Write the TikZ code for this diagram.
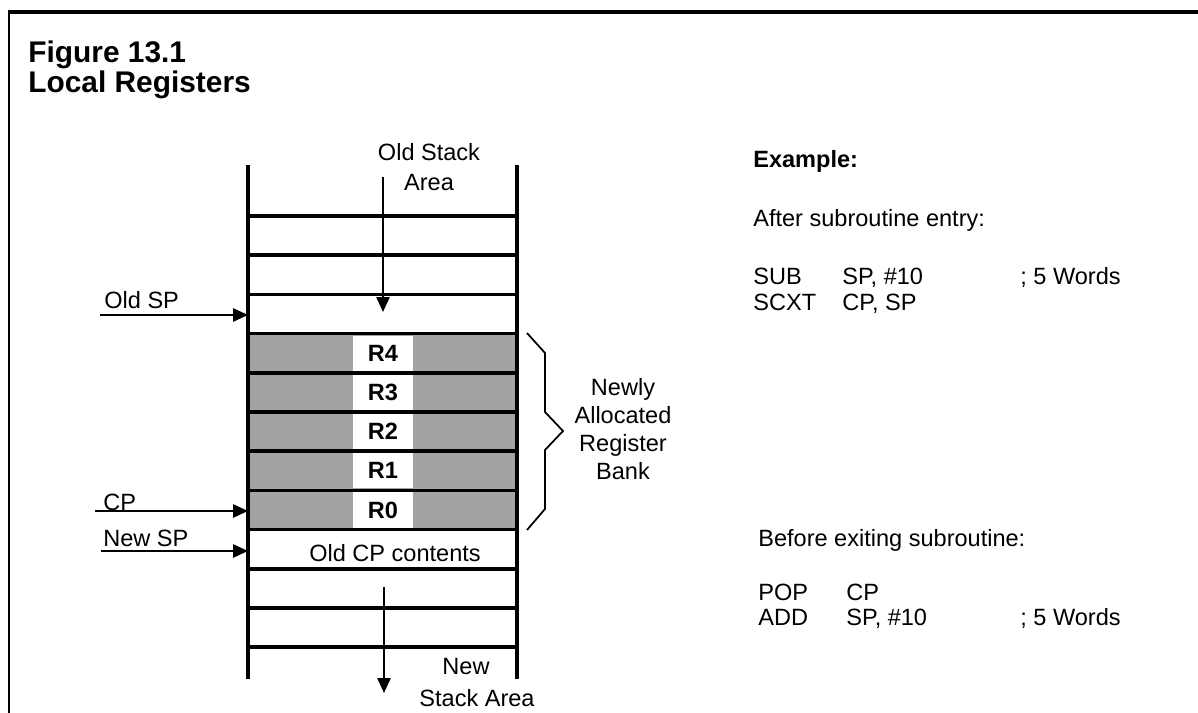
\documentclass[tikz,border=0pt]{standalone}
\usepackage{fontspec}
\setmainfont{Liberation Sans}
\usetikzlibrary{arrows.meta}
\tikzset{
  txt/.style={inner sep=0pt, font=\fontsize{13.4}{17}\selectfont},
  btxt/.style={inner sep=0pt, font=\fontsize{13.4}{17}\selectfont\bfseries},
  ttl/.style={inner sep=0pt, font=\fontsize{17}{20}\selectfont\bfseries, anchor=base west},
  topline/.style={line width=1.8pt},
  sideline/.style={line width=1.2pt},
  stackline/.style={line width=2.1pt},
  rowline/.style={line width=2.1pt},
  shaded/.style={fill=black!36},
  reglabel/.style={fill=white, inner sep=0pt, minimum width=34pt, minimum height=20pt, font=\fontsize{13.4}{17}\selectfont\bfseries},
  arr/.style={line width=1.2pt, -{Triangle[length=8.5pt,width=7.5pt]}},
  bracestyle/.style={line width=1pt, line join=miter},
}
\begin{document}
\begin{tikzpicture}[x=0.02cm, y=-0.02cm]
\useasboundingbox (0,0) rectangle (1198,713);
% frame
\draw[topline] (8,12) -- (1198,12);
\draw[sideline] (9,713) -- (9,12);
% title
\node[ttl] (fig) at (28,63) {Figure 13.1};
\node[ttl] (loc) at (28,93) {Local Registers};
% shaded register rows
\fill[shaded] (248,333.6) rectangle (517,529.6);
\node[reglabel] (r4) at (383,353.2) {R4};
\node[reglabel] (r3) at (383,392.4) {R3};
\node[reglabel] (r2) at (383,431.6) {R2};
\node[reglabel] (r1) at (383,470.8) {R1};
\node[reglabel] (r0) at (383,510.0) {R0};
% row lines
\foreach \yy in {216,255.2,294.4,333.6,372.8,412,451.2,490.4,529.6,568.8,608,647.2}
  \draw[rowline] (248,\yy) -- (517,\yy);
% stack verticals
\draw[stackline] (248,165) -- (248,679);
\draw[stackline] (517,165) -- (517,679);
% old stack area
\node[txt, align=center] (oldstack) at (429,167) {Old Stack\\Area};
\coordinate (osTop) at (383,177);
\coordinate (osTip) at (383,312);
\draw[arr] (osTop) -- (osTip);
% pointers
\node[txt, anchor=base west] (oldsp) at (104,308) {Old SP};
\coordinate (ospS) at (100,315);
\coordinate (ospE) at (248,315);
\draw[arr] (ospS) -- (ospE);
\node[txt, anchor=base west] (cp) at (103,510) {CP};
\coordinate (cpS) at (95,511);
\coordinate (cpE) at (248,511);
\draw[arr] (cpS) -- (cpE);
\node[txt, anchor=base west] (newsp) at (103,546) {New SP};
\coordinate (nspS) at (101,551);
\coordinate (nspE) at (248,551);
\draw[arr] (nspS) -- (nspE);
% old CP contents
\node[txt] (oldcp) at (395,553) {Old CP contents};
% new stack area
\coordinate (nsTop) at (384,587);
\coordinate (nsTip) at (384,693);
\draw[arr] (nsTop) -- (nsTip);
\node[txt] (new) at (466,667) {New};
\node[txt] (stackarea) at (477,698) {Stack Area};
% brace
\draw[bracestyle] (527,333) -- (545,353) -- (545,412) -- (563,431) -- (545,450) -- (545,509) -- (527,530);
\node[txt, align=center, font=\fontsize{13.4}{15.9}\selectfont] (bank) at (623,429) {Newly\\Allocated\\Register\\Bank};
% right column
\node[btxt, anchor=base west] (example) at (753,168) {Example:};
\node[txt, anchor=base west] (after) at (753,227) {After subroutine entry:};
\node[txt, anchor=base west] (sub) at (753,284) {SUB};
\node[txt, anchor=base west] (subop) at (842,284) {SP, \#10};
\node[txt, anchor=base west] (subc) at (1020,284) {; 5 Words};
\node[txt, anchor=base west] (scxt) at (753,310) {SCXT};
\node[txt, anchor=base west] (scxtop) at (842,310) {CP, SP};
\node[txt, anchor=base west] (before) at (758,546) {Before exiting subroutine:};
\node[txt, anchor=base west] (pop) at (758,600) {POP};
\node[txt, anchor=base west] (popop) at (846,600) {CP};
\node[txt, anchor=base west] (add) at (758,625) {ADD};
\node[txt, anchor=base west] (addop) at (846,625) {SP, \#10};
\node[txt, anchor=base west] (addc) at (1020,625) {; 5 Words};
\end{tikzpicture}
\end{document}
